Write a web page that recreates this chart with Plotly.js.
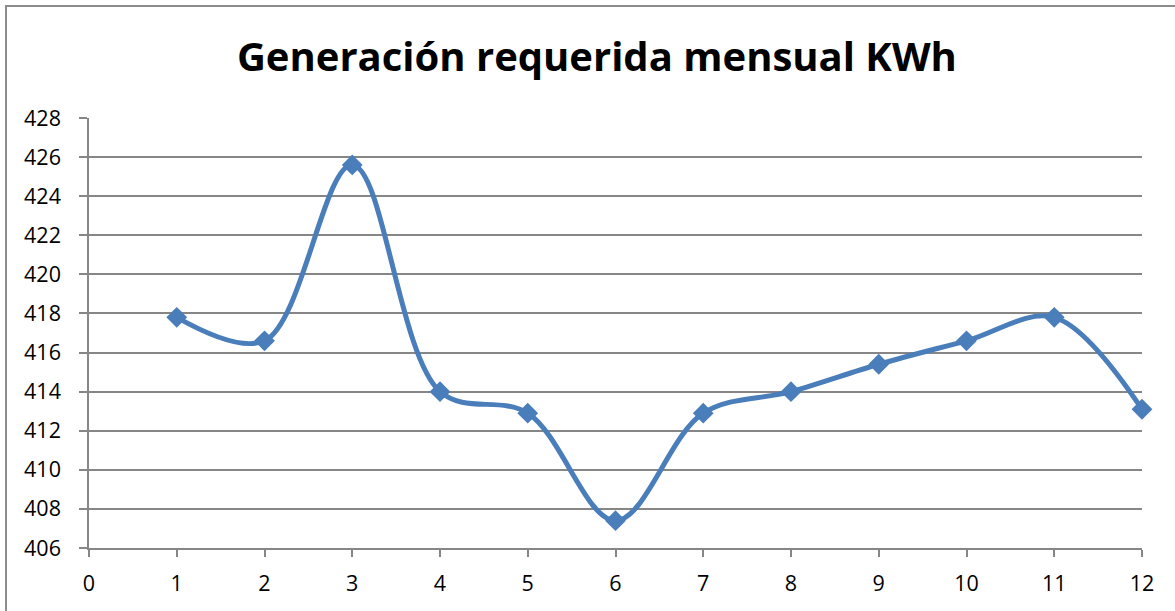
<!DOCTYPE html>
<html>
<head>
<meta charset="utf-8">
<script src="https://cdn.plot.ly/plotly-3.0.1.min.js"></script>
<style>
  html, body { margin: 0; padding: 0; background: #fff; }
  #wrap { position: relative; width: 1175px; height: 611px; overflow: hidden; }
  #frame { position: absolute; left: 5px; top: 5px; width: 1300px; height: 700px;
           border-left: 2px solid #8c8c8c; border-top: 2px solid #8c8c8c; pointer-events: none; }
  #chart { position: absolute; left: 0; top: 0; width: 1175px; height: 611px; }
</style>
</head>
<body>
<div id="wrap">
  <div id="chart"></div>
  <div id="frame"></div>
</div>
<script>
const months = [1, 2, 3, 4, 5, 6, 7, 8, 9, 10, 11, 12];
const kwh = [417.8, 416.6, 425.6, 414.0, 412.9, 407.4, 412.9, 414.0, 415.4, 416.6, 417.8, 413.1];
const xTicks = [0, 1, 2, 3, 4, 5, 6, 7, 8, 9, 10, 11, 12];
const yTicks = [406, 408, 410, 412, 414, 416, 418, 420, 422, 424, 426, 428];
const chartTitle = 'Generación requerida mensual KWh';

const trace = {
  x: months,
  y: kwh,
  type: 'scatter',
  mode: 'lines+markers',
  cliponaxis: false,
  line: { color: '#4a7ebb', width: 5, shape: 'spline', smoothing: 1 },
  marker: { symbol: 'diamond', size: 16, color: '#4a7ebb' },
  hoverinfo: 'x+y'
};

const gray = '#868686';
const tickFont = { family: 'Open Sans, Calibri, sans-serif', size: 21.5, color: '#000' };

const layout = {
  width: 1175,
  height: 611,
  margin: { l: 89, r: 33, t: 117.5, b: 63 },
  paper_bgcolor: '#fff',
  plot_bgcolor: '#fff',
  showlegend: false,
  title: {
    text: '<b>' + chartTitle + '</b>',
    font: { family: 'Open Sans, Calibri, sans-serif', size: 40, color: '#000' },
    x: 0.508, xanchor: 'center',
    y: 0.907, yanchor: 'middle'
  },
  xaxis: {
    range: [0, 12],
    tickvals: xTicks,
    ticktext: xTicks.map(String),
    ticks: 'outside', ticklen: 7, tickwidth: 1.5, tickcolor: gray,
    showline: true, linecolor: gray, linewidth: 1.5,
    showgrid: false, zeroline: false,
    tickfont: tickFont,
    ticklabelstandoff: 8,
    fixedrange: true
  },
  yaxis: {
    range: [406, 428],
    tickvals: yTicks,
    ticktext: yTicks.map(String),
    ticks: 'outside', ticklen: 8, tickwidth: 1.5, tickcolor: gray,
    showline: true, linecolor: gray, linewidth: 1.5,
    showgrid: true, gridcolor: gray, gridwidth: 1.5,
    zeroline: false,
    tickfont: tickFont,
    ticklabelstandoff: 14,
    fixedrange: true
  }
};

Plotly.newPlot('chart', [trace], layout, { displayModeBar: false });
</script>
</body>
</html>
